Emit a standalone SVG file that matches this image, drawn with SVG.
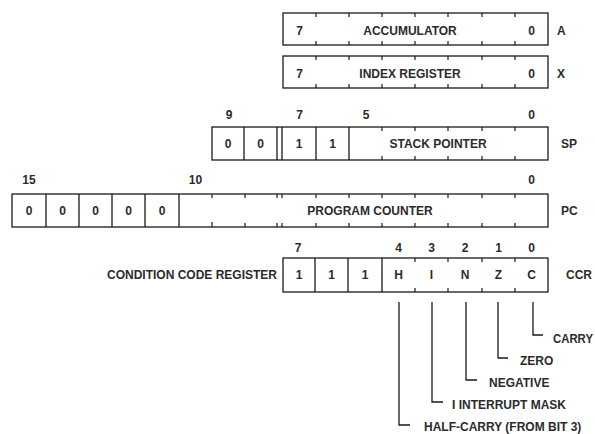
<svg xmlns="http://www.w3.org/2000/svg" width="595" height="434" viewBox="0 0 595 434">
<style>
.box{fill:#fff;stroke:#1a1a1a;stroke-width:1.3}
.ln{stroke:#1a1a1a;stroke-width:1.3;fill:none}
.tk{stroke:#1a1a1a;stroke-width:1.2}
text{font-family:"Liberation Sans",Arial,sans-serif;font-size:12px;font-weight:bold;fill:#2b2b2b}
.c{text-anchor:middle}
.e{text-anchor:end}
</style>
<rect width="595" height="434" fill="#fff"/>

<g id="accumulator">
<rect class="box" x="283" y="13" width="265" height="32"/>
<path class="tk" d="M316,13v4M349,13v4M382,13v4M415,13v4M448,13v4M482,13v4M515,13v4M316,45v-4M349,45v-4M382,45v-4M415,45v-4M448,45v-4M482,45v-4M515,45v-4"/>
<text class="c" x="299.5" y="35">7</text>
<text class="c" x="410" y="35">ACCUMULATOR</text>
<text class="c" x="531.5" y="35">0</text>
<text x="557" y="35">A</text>
</g>

<g id="index-register">
<rect class="box" x="283" y="56" width="265" height="32"/>
<path class="tk" d="M316,56v4M349,56v4M382,56v4M415,56v4M448,56v4M482,56v4M515,56v4M316,88v-4M349,88v-4M382,88v-4M415,88v-4M448,88v-4M482,88v-4M515,88v-4"/>
<text class="c" x="299.5" y="78">7</text>
<text class="c" x="410" y="78">INDEX REGISTER</text>
<text class="c" x="531.5" y="78">0</text>
<text x="557" y="78">X</text>
</g>

<g id="stack-pointer">
<text class="c" x="229" y="119">9</text>
<text class="c" x="299.5" y="119">7</text>
<text class="c" x="366" y="119">5</text>
<text class="c" x="531.5" y="119">0</text>
<rect class="box" x="212" y="127" width="336" height="33"/>
<path class="ln" d="M244,127v33M277,127v33M282,127v33M316,127v33M349,127v33"/>
<path class="tk" d="M382,127v4M415,127v4M448,127v4M482,127v4M515,127v4M382,160v-4M415,160v-4M448,160v-4M482,160v-4M515,160v-4"/>
<text class="c" x="228" y="148">0</text>
<text class="c" x="260.5" y="148">0</text>
<text class="c" x="299" y="148">1</text>
<text class="c" x="332.5" y="148">1</text>
<text class="c" x="438" y="148">STACK POINTER</text>
<text x="561" y="148">SP</text>
</g>

<g id="program-counter">
<text class="c" x="29" y="184">15</text>
<text class="c" x="195.5" y="184">10</text>
<text class="c" x="531.5" y="184">0</text>
<rect class="box" x="12" y="194" width="536" height="33"/>
<path class="ln" d="M46,194v33M79,194v33M112,194v33M145,194v33M179,194v33"/>
<path class="tk" d="M212,194v4M245,194v4M277,194v4M282,194v4M316,194v4M349,194v4M382,194v4M415,194v4M448,194v4M482,194v4M515,194v4M212,227v-5M245,227v-4M277,227v-4M282,227v-4M316,227v-4M349,227v-4M382,227v-4M415,227v-4M448,227v-4M482,227v-4M515,227v-4"/>
<text class="c" x="29" y="215">0</text>
<text class="c" x="62.5" y="215">0</text>
<text class="c" x="95.5" y="215">0</text>
<text class="c" x="128.5" y="215">0</text>
<text class="c" x="162" y="215">0</text>
<text class="c" x="370" y="215">PROGRAM COUNTER</text>
<text x="561" y="215">PC</text>
</g>

<g id="condition-code-register">
<text class="c" x="298" y="252">7</text>
<text class="c" x="398.5" y="252">4</text>
<text class="c" x="431.5" y="252">3</text>
<text class="c" x="465" y="252">2</text>
<text class="c" x="498.5" y="252">1</text>
<text class="c" x="531.5" y="252">0</text>
<text class="e" x="277" y="279">CONDITION CODE REGISTER</text>
<rect class="box" x="283" y="258" width="265" height="34"/>
<path class="ln" d="M315,258v34M348,258v34M382,258v34"/>
<path class="tk" d="M415,258v4M448,258v4M482,258v4M515,258v4M415,292v-4M448,292v-4M482,292v-4M515,292v-4"/>
<text class="c" x="299" y="279">1</text>
<text class="c" x="331.5" y="279">1</text>
<text class="c" x="365" y="279">1</text>
<text class="c" x="398.5" y="279">H</text>
<text class="c" x="431.5" y="279">I</text>
<text class="c" x="465" y="279">N</text>
<text class="c" x="498.5" y="279">Z</text>
<text class="c" x="531.5" y="279">C</text>
<text x="566" y="279">CCR</text>
</g>

<g id="connectors">
<path class="ln" d="M399,302V425H410"/>
<path class="ln" d="M432,302V402H443"/>
<path class="ln" d="M466,302V380H477"/>
<path class="ln" d="M498,302V358H508"/>
<path class="ln" d="M533,302V335H543"/>
</g>

<g id="flag-labels">
<text x="424" y="431">HALF-CARRY (FROM BIT 3)</text>
<text x="452" y="409">I INTERRUPT MASK</text>
<text x="489" y="387">NEGATIVE</text>
<text x="520" y="365">ZERO</text>
<text x="553" y="343" textLength="40" lengthAdjust="spacingAndGlyphs">CARRY</text>
</g>
</svg>
